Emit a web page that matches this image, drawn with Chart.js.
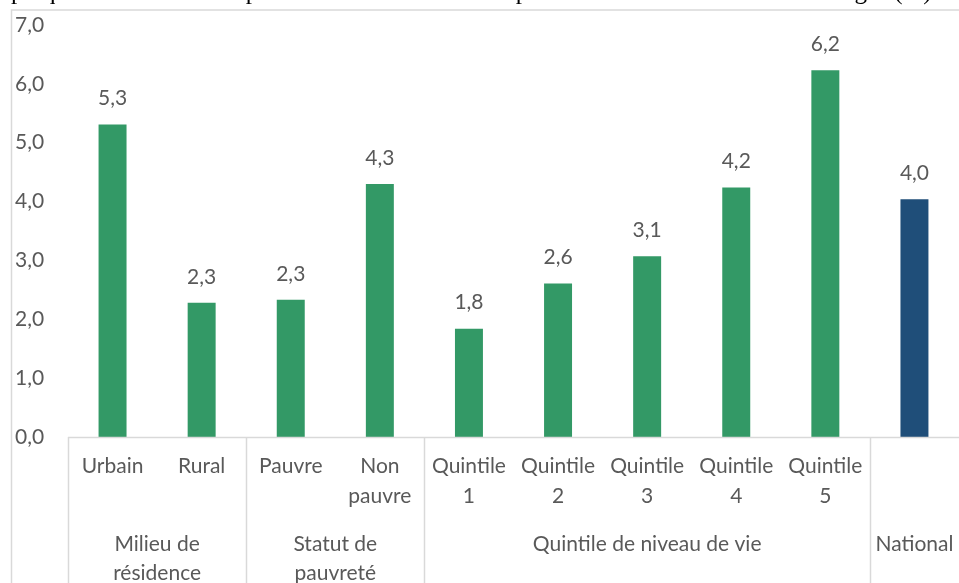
<!DOCTYPE html>
<html>
<head>
<meta charset="utf-8">
<script src="https://cdn.jsdelivr.net/npm/chart.js@4.4.1/dist/chart.umd.min.js"></script>
<style>
    html, body { margin: 0; padding: 0; background: #fff; }
    #wrap { width: 959px; height: 583px; position: relative; }
</style>
</head>
<body>
<div id="wrap"><canvas id="healthChart"></canvas></div>
<script>
// 1er niveau de l'axe des catégories
const categories = [['Urbain'], ['Rural'], ['Pauvre'], ['Non', 'pauvre'],
    ['Quintile', '1'], ['Quintile', '2'], ['Quintile', '3'], ['Quintile', '4'], ['Quintile', '5'], ['']];
// 2e niveau (groupes)
const groupLabels = [['Milieu de', 'résidence'], ['Statut de', 'pauvreté'], ['Quintile de niveau de vie'], ['National']];
const groupSizes = [2, 2, 5, 1];
// part des dépenses de santé (%)
const values = [5.31, 2.28, 2.33, 4.30, 1.84, 2.61, 3.07, 4.24, 6.23, 4.04];
const yMin = 0, yMax = 7, yStep = 1;
const titleText = 'Graphique 5.4 : Part des dépenses de santé dans les dépenses totales annuelles des ménages (%)';

const GREEN = '#339966';
const BLUE = '#1f4e79';
const TEXT = '#595959';
const LINE = '#d9d9d9';
const FONT = 'Lato, "Open Sans", sans-serif';
const FONT_SIZE = 21;

const fmt = v => Number(v).toFixed(1).replace('.', ',');

// cadre, axe, séparateurs et libellés à deux niveaux
const axisPlugin = {
    id: 'axisPlugin',
    beforeDraw(chart) {
        const ctx = chart.ctx;
        ctx.save();
        // titre coupé en haut
        ctx.fillStyle = '#000';
        ctx.font = '25px "Liberation Serif", serif';
        ctx.textBaseline = 'alphabetic';
        ctx.textAlign = 'left';
        ctx.fillText(titleText, -ctx.measureText('Gr').width, -1);
        // cadre
        ctx.strokeStyle = LINE;
        ctx.lineWidth = 1.5;
        ctx.beginPath();
        ctx.moveTo(11.5, chart.height);
        ctx.lineTo(11.5, 10);
        ctx.lineTo(chart.width, 10);
        ctx.stroke();
        ctx.restore();
    },
    afterDatasetsDraw(chart) {
        const ctx = chart.ctx;
        const area = chart.chartArea;
        const xs = chart.scales.x;
        const meta = chart.getDatasetMeta(0);
        const half = (xs.getPixelForValue(1) - xs.getPixelForValue(0)) / 2;
        ctx.save();

        // ligne d'axe
        ctx.strokeStyle = LINE;
        ctx.lineWidth = 1.5;
        ctx.beginPath();
        ctx.moveTo(area.left, area.bottom + 0.5);
        ctx.lineTo(area.right, area.bottom + 0.5);
        ctx.stroke();

        // séparateurs de groupes
        let idx = 0;
        const bounds = [xs.getPixelForValue(0) - half];
        groupSizes.forEach(n => {
            idx += n;
            bounds.push(xs.getPixelForValue(idx - 1) + half);
        });
        bounds.slice(0, -1).forEach(x => {
            ctx.beginPath();
            ctx.moveTo(Math.round(x) + 0.5, area.bottom);
            ctx.lineTo(Math.round(x) + 0.5, chart.height);
            ctx.stroke();
        });

        ctx.fillStyle = TEXT;
        ctx.font = `${FONT_SIZE}px ${FONT}`;
        ctx.textAlign = 'center';
        ctx.textBaseline = 'middle';

        // étiquettes de données
        meta.data.forEach((bar, i) => {
            ctx.fillText(fmt(values[i]), bar.x, bar.y - 26);
        });

        // 1er niveau
        categories.forEach((lines, i) => {
            const x = xs.getPixelForValue(i);
            lines.forEach((t, j) => ctx.fillText(t, x, area.bottom + 29 + j * 30));
        });

        // 2e niveau
        groupLabels.forEach((lines, g) => {
            const x = (bounds[g] + bounds[g + 1]) / 2;
            lines.forEach((t, j) => ctx.fillText(t, x, area.bottom + 107 + j * 29));
        });
        ctx.restore();
    }
};

const ctx = document.getElementById('healthChart').getContext('2d');
new Chart(ctx, {
    type: 'bar',
    data: {
        labels: categories.map(c => c.join(' ')),
        datasets: [{
            data: values,
            backgroundColor: values.map((v, i) => i === values.length - 1 ? BLUE : GREEN),
            categoryPercentage: 1,
            barPercentage: 0.314
        }]
    },
    options: {
        responsive: true,
        maintainAspectRatio: false,
        animation: false,
        layout: { padding: { left: 15, top: 25, right: 0, bottom: 146 } },
        plugins: {
            legend: { display: false },
            tooltip: { enabled: false }
        },
        scales: {
            x: { display: false },
            y: {
                min: yMin,
                max: yMax,
                grid: { display: false },
                border: { display: false },
                afterFit: scale => { scale.width = 53; },
                ticks: {
                    stepSize: yStep,
                    crossAlign: 'far',
                    color: TEXT,
                    font: { family: FONT, size: FONT_SIZE },
                    callback: v => fmt(v)
                }
            }
        }
    },
    plugins: [axisPlugin]
});
</script>
</body>
</html>
